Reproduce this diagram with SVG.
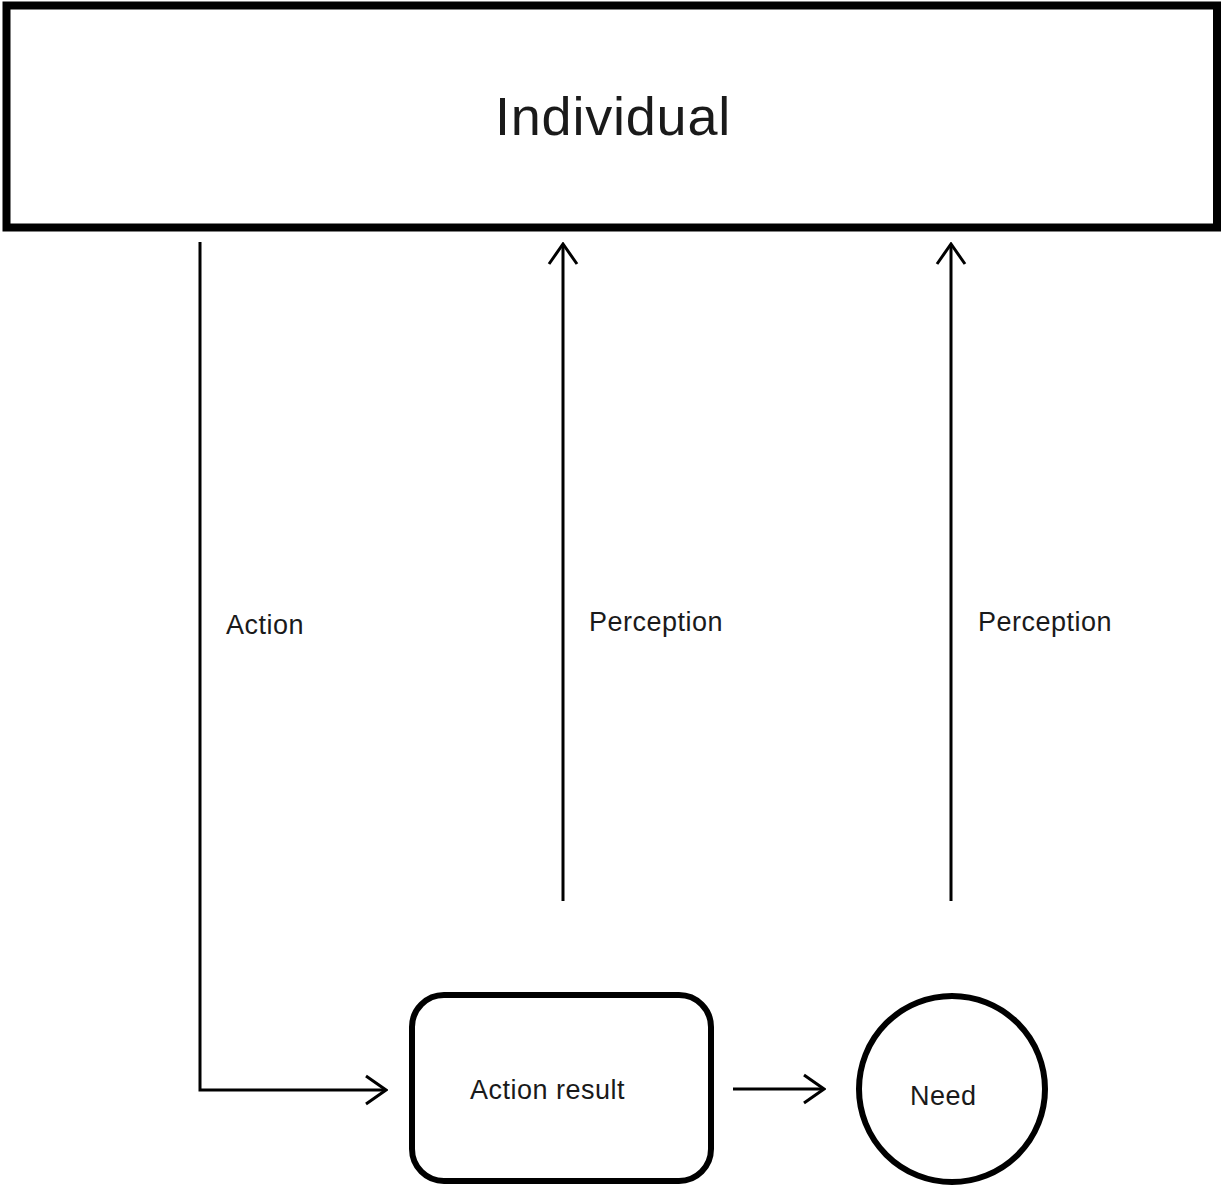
<svg xmlns="http://www.w3.org/2000/svg" width="1225" height="1187" viewBox="0 0 1225 1187">
<style>
text{font-family:"Liberation Sans",Arial,sans-serif;fill:#1a1a1a}
.lbl{font-size:27px;letter-spacing:0.5px}
.conn{fill:none;stroke:#000;stroke-width:3}
</style>
<defs>
<marker id="ah" viewBox="-22 -16 24 32" markerWidth="24" markerHeight="32" refX="0" refY="0" orient="auto" markerUnits="userSpaceOnUse">
<path d="M-20,-14 L0,0 L-20,14" fill="none" stroke="#000" stroke-width="3"/>
</marker>
</defs>
<rect width="1225" height="1187" fill="#fff"/>
<g id="individual">
<rect x="6.5" y="5.5" width="1210.5" height="222" fill="#fff" stroke="#000" stroke-width="8"/>
<text x="613" y="135" font-size="54" letter-spacing="0.8" text-anchor="middle">Individual</text>
</g>
<g id="action-result">
<rect x="412" y="995" width="299" height="186" rx="32" fill="#fff" stroke="#000" stroke-width="6"/>
<text x="470" y="1099" class="lbl">Action result</text>
</g>
<g id="need">
<circle cx="952" cy="1089" r="93" fill="#fff" stroke="#000" stroke-width="6"/>
<text x="910" y="1105" class="lbl">Need</text>
</g>
<g id="connectors">
<path class="conn" d="M200,242 V1090 H386" marker-end="url(#ah)"/>
<path class="conn" d="M563,901 V244" marker-end="url(#ah)"/>
<path class="conn" d="M951,901 V244" marker-end="url(#ah)"/>
<path class="conn" d="M733,1089 H824" marker-end="url(#ah)"/>
<text x="226" y="634" class="lbl">Action</text>
<text x="589" y="631" class="lbl">Perception</text>
<text x="978" y="631" class="lbl">Perception</text>
</g>
</svg>
